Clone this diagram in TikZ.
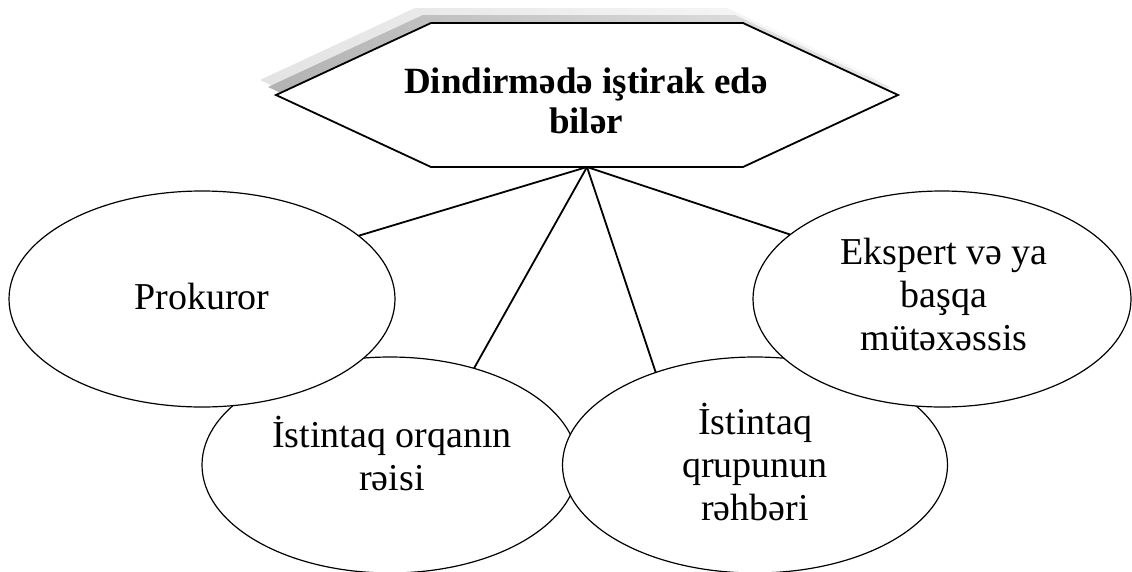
\documentclass[tikz,border=0pt]{standalone}
\usepackage{fontspec}
\setmainfont{Liberation Serif}
\usetikzlibrary{shapes.geometric,backgrounds}
\begin{document}
\begin{tikzpicture}[x=1pt,y=-1pt,
  oval/.style={draw, line width=1.2pt, fill=white, ellipse, inner sep=0pt, outer sep=0pt},
  ovaltext/.style={inner sep=0pt, align=center, font=\rmfamily\fontsize{38}{43}\selectfont},
  link/.style={line width=1.8pt},
  hexline/.style={line width=1.8pt, line join=miter},
  titletext/.style={align=center, font=\rmfamily\bfseries\fontsize{37}{40}\selectfont}]
\useasboundingbox (0,0) rectangle (1132,571);
% shadow of the hexagon
\shade[left color=gray!22, right color=gray!4]
  (260,80) -- (415,8) -- (727,8) -- (882,80) -- (727,152) -- (415,152) -- cycle;
\shade[left color=gray!60, right color=gray!18]
  (268,87) -- (423,15) -- (735,15) -- (890,87) -- (735,159) -- (423,159) -- cycle;
% hexagon
\draw[hexline, fill=white]
  (276,95) -- (431,23) -- (743,23) -- (898,95) -- (743,167) -- (431,167) -- cycle;
\node[titletext] (title) at (586,101) {Dindirmədə iştirak edə\\bilər};
\coordinate (hub) at (587,167);
% ellipses (order gives the overlaps)
\node[oval, minimum width=376pt, minimum height=216pt] (rei) at (390,465) {};
\node[oval, minimum width=385pt, minimum height=216pt] (reh) at (755,465) {};
\node[oval, minimum width=386pt, minimum height=216pt] (pro) at (202,299) {};
\node[oval, minimum width=378pt, minimum height=216pt] (eks) at (942,299) {};
% texts
\node[ovaltext] (reit) at (392,453) {İstintaq orqanın\\rəisi};
\node[ovaltext] (reht) at (755,462) {İstintaq\\qrupunun\\rəhbəri};
\node[ovaltext] (prot) at (202,296) {Prokuror};
\node[ovaltext] (ekst) at (944,294) {Ekspert və ya\\başqa\\mütəxəssis};
% connectors
\begin{scope}[on background layer]
\draw[link] (hub) -- (pro.22);
\draw[link] (hub) -- (eks.157);
\draw[link] (hub) -- (rei.49);
\draw[link] (hub) -- (reh.137);
\end{scope}
\end{tikzpicture}
\end{document}
